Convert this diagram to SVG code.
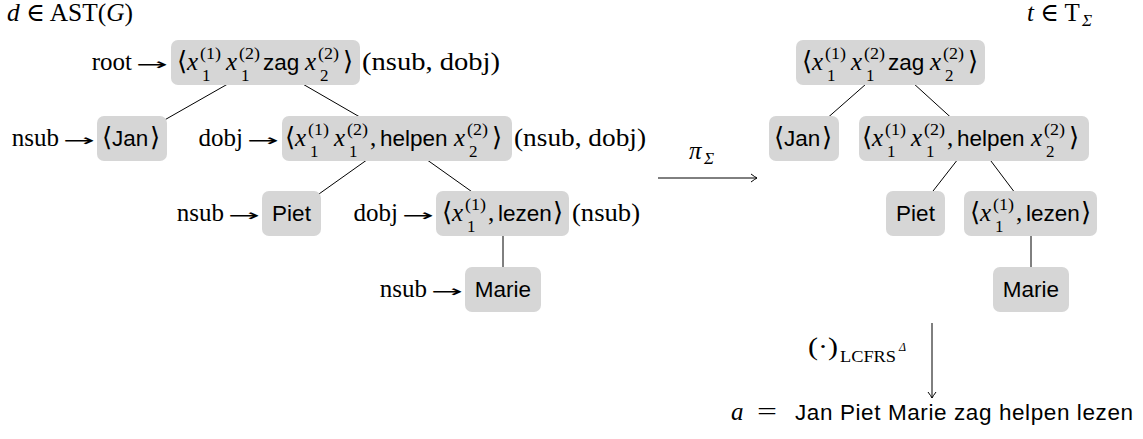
<svg xmlns="http://www.w3.org/2000/svg" width="1143" height="439" viewBox="0 0 1143 439">
<defs>
<style>
.box{fill:#d6d6d6}
.m{font-family:"Liberation Serif","DejaVu Serif","DejaVu Sans",serif;font-size:25px;fill:#000}
.i{font-style:italic}
.sc{font-size:17px}
.ss{font-size:12px}
.br{font-family:"DejaVu Serif","DejaVu Sans",serif;font-size:26px}
.ar{font-family:"DejaVu Sans",sans-serif;font-size:16px}
.sf{font-family:"Liberation Sans",Arial,"DejaVu Sans",sans-serif;font-size:22.5px;fill:#000}
.edge{stroke:#000;stroke-width:1;fill:none}
.mid{text-anchor:middle}
.end{text-anchor:end}
</style>
<marker id="to" viewBox="-8 -5 10 10" refX="0" refY="0" markerWidth="10" markerHeight="10" markerUnits="userSpaceOnUse" orient="auto">
<path d="M-6,-4 Q-2,-1 0,0 Q-2,1 -6,4" fill="none" stroke="#000" stroke-width="1"/>
</marker>
</defs>
<rect width="1143" height="439" fill="#fff"/>

<g id="connectors">
<line class="edge" x1="265.5" y1="62.5" x2="132" y2="138.5"/>
<line class="edge" x1="265.5" y1="62.5" x2="397" y2="138.5"/>
<line class="edge" x1="397" y1="138.5" x2="291.5" y2="213.5"/>
<line class="edge" x1="397" y1="138.5" x2="502.5" y2="213.5"/>
<line class="edge" x1="503" y1="213.5" x2="503" y2="289.5"/>
<line class="edge" x1="890.5" y1="62.5" x2="804" y2="138.5"/>
<line class="edge" x1="890.5" y1="62.5" x2="974" y2="138.5"/>
<line class="edge" x1="974" y1="138.5" x2="915.5" y2="213.5"/>
<line class="edge" x1="974" y1="138.5" x2="1030.5" y2="213.5"/>
<line class="edge" x1="1031" y1="213.5" x2="1031" y2="289.5"/>
<path class="edge" d="M658,178 H757" marker-end="url(#to)"/>
<path class="edge" d="M932,323 V398" marker-end="url(#to)"/>
</g>

<g id="headers">
<text class="m" x="7" y="21" textLength="126" lengthAdjust="spacingAndGlyphs"><tspan class="i">d</tspan> ∈ AST(<tspan class="i">G</tspan>)</text>
<text class="m" x="1027" y="21"><tspan class="i">t</tspan> ∈ T</text>
<text class="m i sc" x="1082" y="26">Σ</text>
</g>

<g id="labels">
<text class="m end" x="132" y="70">root</text>
<text class="m ar" x="136" y="70" textLength="32" lengthAdjust="spacingAndGlyphs">→</text>
<text class="m" x="362" y="70" textLength="138" lengthAdjust="spacingAndGlyphs">(nsub, dobj)</text>
<text class="m end" x="59" y="146">nsub</text>
<text class="m ar" x="63" y="146" textLength="32" lengthAdjust="spacingAndGlyphs">→</text>
<text class="m end" x="243" y="146">dobj</text>
<text class="m ar" x="247" y="146" textLength="32" lengthAdjust="spacingAndGlyphs">→</text>
<text class="m" x="514" y="146" textLength="132" lengthAdjust="spacingAndGlyphs">(nsub, dobj)</text>
<text class="m end" x="224" y="221">nsub</text>
<text class="m ar" x="228" y="221" textLength="32" lengthAdjust="spacingAndGlyphs">→</text>
<text class="m end" x="398" y="221">dobj</text>
<text class="m ar" x="402" y="221" textLength="32" lengthAdjust="spacingAndGlyphs">→</text>
<text class="m" x="572" y="221" textLength="68" lengthAdjust="spacingAndGlyphs">(nsub)</text>
<text class="m end" x="427" y="297">nsub</text>
<text class="m ar" x="431" y="297" textLength="32" lengthAdjust="spacingAndGlyphs">→</text>
<text class="m i" x="689" y="159">π</text>
<text class="m i sc" x="704" y="164">Σ</text>
<text class="m" x="808" y="355" textLength="30" lengthAdjust="spacingAndGlyphs">(·)</text>
<text class="m sc" x="840" y="362" textLength="56" lengthAdjust="spacingAndGlyphs">LCFRS</text>
<text class="m i ss" x="899" y="351">Δ</text>
<text class="m i" x="731" y="420">a</text>
<text class="m" x="757" y="420" textLength="20" lengthAdjust="spacingAndGlyphs">=</text>
<text class="sf" x="795" y="420" textLength="338">Jan Piet Marie zag helpen lezen</text>
</g>

<g id="root-left" transform="translate(171,40)">
<rect class="box" width="189" height="45" rx="7"/>
<text class="m br" x="6" y="30">⟨</text>
<text class="m i" x="16" y="30">x</text><text class="m sc" x="29" y="19" textLength="21" lengthAdjust="spacingAndGlyphs">(1)</text><text class="m sc" x="31" y="41">1</text>
<text class="m i" x="55" y="30">x</text><text class="m sc" x="68" y="19" textLength="21" lengthAdjust="spacingAndGlyphs">(2)</text><text class="m sc" x="70" y="41">1</text>
<text class="sf" x="92" y="30">zag</text>
<text class="m i" x="134" y="30">x</text><text class="m sc" x="147" y="19" textLength="21" lengthAdjust="spacingAndGlyphs">(2)</text><text class="m sc" x="149" y="41">2</text>
<text class="m br" x="172" y="30">⟩</text>
</g>

<g id="jan-left" transform="translate(97,116)">
<rect class="box" width="70" height="45" rx="7"/>
<text class="m br" x="5" y="30">⟨</text>
<text class="sf" x="15" y="30">Jan</text>
<text class="m br" x="53" y="30">⟩</text>
</g>

<g id="helpen-left" transform="translate(282,116)">
<rect class="box" width="230" height="45" rx="7"/>
<text class="m br" x="3" y="30">⟨</text>
<text class="m i" x="13" y="30">x</text><text class="m sc" x="26" y="19" textLength="21" lengthAdjust="spacingAndGlyphs">(1)</text><text class="m sc" x="28" y="41">1</text>
<text class="m i" x="52" y="30">x</text><text class="m sc" x="65" y="19" textLength="21" lengthAdjust="spacingAndGlyphs">(2)</text><text class="m sc" x="67" y="41">1</text>
<text class="m" x="88" y="30">,</text>
<text class="sf" x="98" y="30">helpen</text>
<text class="m i" x="172" y="30">x</text><text class="m sc" x="185" y="19" textLength="21" lengthAdjust="spacingAndGlyphs">(2)</text><text class="m sc" x="187" y="41">2</text>
<text class="m br" x="210" y="30">⟩</text>
</g>

<g id="piet-left" transform="translate(262,191)">
<rect class="box" width="59" height="45" rx="7"/>
<text class="sf mid" x="29.5" y="30">Piet</text>
</g>

<g id="lezen-left" transform="translate(436,191)">
<rect class="box" width="133" height="45" rx="7"/>
<text class="m br" x="6" y="30">⟨</text>
<text class="m i" x="16" y="30">x</text><text class="m sc" x="29" y="19" textLength="21" lengthAdjust="spacingAndGlyphs">(1)</text><text class="m sc" x="31" y="41">1</text>
<text class="m" x="52" y="30">,</text>
<text class="sf" x="62" y="30">lezen</text>
<text class="m br" x="117" y="30">⟩</text>
</g>

<g id="marie-left" transform="translate(465,267)">
<rect class="box" width="76" height="45" rx="7"/>
<text class="sf mid" x="38" y="30">Marie</text>
</g>

<g id="root-right" transform="translate(796,40)">
<rect class="box" width="189" height="45" rx="7"/>
<text class="m br" x="6" y="30">⟨</text>
<text class="m i" x="16" y="30">x</text><text class="m sc" x="29" y="19" textLength="21" lengthAdjust="spacingAndGlyphs">(1)</text><text class="m sc" x="31" y="41">1</text>
<text class="m i" x="55" y="30">x</text><text class="m sc" x="68" y="19" textLength="21" lengthAdjust="spacingAndGlyphs">(2)</text><text class="m sc" x="70" y="41">1</text>
<text class="sf" x="92" y="30">zag</text>
<text class="m i" x="134" y="30">x</text><text class="m sc" x="147" y="19" textLength="21" lengthAdjust="spacingAndGlyphs">(2)</text><text class="m sc" x="149" y="41">2</text>
<text class="m br" x="172" y="30">⟩</text>
</g>

<g id="jan-right" transform="translate(769,116)">
<rect class="box" width="70" height="45" rx="7"/>
<text class="m br" x="5" y="30">⟨</text>
<text class="sf" x="15" y="30">Jan</text>
<text class="m br" x="53" y="30">⟩</text>
</g>

<g id="helpen-right" transform="translate(859,116)">
<rect class="box" width="230" height="45" rx="7"/>
<text class="m br" x="3" y="30">⟨</text>
<text class="m i" x="13" y="30">x</text><text class="m sc" x="26" y="19" textLength="21" lengthAdjust="spacingAndGlyphs">(1)</text><text class="m sc" x="28" y="41">1</text>
<text class="m i" x="52" y="30">x</text><text class="m sc" x="65" y="19" textLength="21" lengthAdjust="spacingAndGlyphs">(2)</text><text class="m sc" x="67" y="41">1</text>
<text class="m" x="88" y="30">,</text>
<text class="sf" x="98" y="30">helpen</text>
<text class="m i" x="172" y="30">x</text><text class="m sc" x="185" y="19" textLength="21" lengthAdjust="spacingAndGlyphs">(2)</text><text class="m sc" x="187" y="41">2</text>
<text class="m br" x="210" y="30">⟩</text>
</g>

<g id="piet-right" transform="translate(886,191)">
<rect class="box" width="59" height="45" rx="7"/>
<text class="sf mid" x="29.5" y="30">Piet</text>
</g>

<g id="lezen-right" transform="translate(964,191)">
<rect class="box" width="133" height="45" rx="7"/>
<text class="m br" x="6" y="30">⟨</text>
<text class="m i" x="16" y="30">x</text><text class="m sc" x="29" y="19" textLength="21" lengthAdjust="spacingAndGlyphs">(1)</text><text class="m sc" x="31" y="41">1</text>
<text class="m" x="52" y="30">,</text>
<text class="sf" x="62" y="30">lezen</text>
<text class="m br" x="117" y="30">⟩</text>
</g>

<g id="marie-right" transform="translate(993,267)">
<rect class="box" width="76" height="45" rx="7"/>
<text class="sf mid" x="38" y="30">Marie</text>
</g>
</svg>
